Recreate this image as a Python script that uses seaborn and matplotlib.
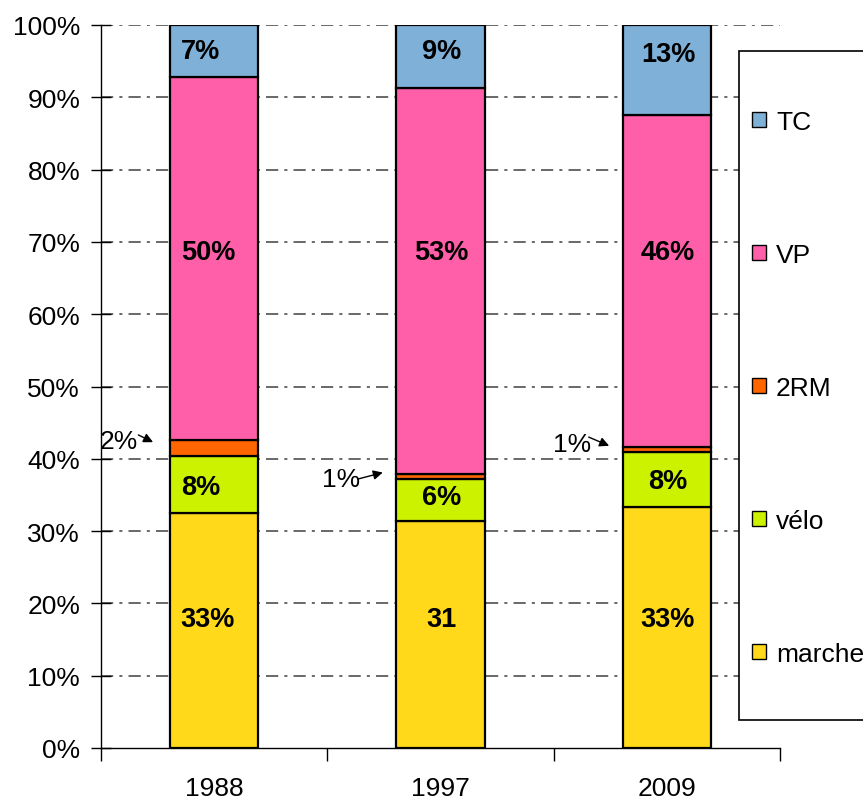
import numpy as np
import pandas as pd
import seaborn as sns
import matplotlib.pyplot as plt
from matplotlib.patches import Patch, Rectangle

# modal shares (%)
years = ["1988", "1997", "2009"]
modes = ["marche", "vélo", "2RM", "VP", "TC"]
marche = [32.5, 31.4, 33.3]
velo = [7.9, 5.8, 7.6]
deux_rm = [2.2, 0.7, 0.7]
vp = [50.2, 53.4, 46.0]
tc = [7.2, 8.7, 12.4]

# bar labels as printed on the chart
labels_marche = ["33%", "31", "33%"]
labels_velo = ["8%", "6%", "8%"]
labels_vp = ["50%", "53%", "46%"]
labels_tc = ["7%", "9%", "13%"]

# small 2RM shares written beside the bars
small_labels = ["2%", "1%", "1%"]

colors = {"marche": "#FFD91A", "vélo": "#CCF200", "2RM": "#FF6600",
          "VP": "#FF5FA8", "TC": "#7EB0D8"}

df = pd.DataFrame({"year": years, "marche": marche, "vélo": velo,
                   "2RM": deux_rm, "VP": vp, "TC": tc})

sns.set_style("white")
plt.rcParams["font.family"] = ["Liberation Sans", "DejaVu Sans"]
plt.rcParams["text.color"] = "black"
plt.rcParams["xtick.color"] = "black"
plt.rcParams["ytick.color"] = "black"

fig = plt.figure(figsize=(8.63, 8.03), dpi=100)
ax = fig.add_axes([101 / 863, 54 / 803, 679 / 863, 723 / 803])

# gridlines behind bars
ax.set_axisbelow(True)
for g in range(10, 101, 10):
    ax.axhline(g, color="#404040", lw=1.1, ls=(0, (8, 4, 2, 4)), zorder=0)

bottom = np.zeros(len(years))
for m in modes:
    sns.barplot(data=df, x="year", y=m, bottom=bottom, color=colors[m],
                width=0.39, edgecolor="black", linewidth=1.6, saturation=1,
                ax=ax, zorder=2)
    bottom = bottom + df[m].values

# text positions (y in %) of the in-bar labels
y_tc = [96.4, 96.4, 96.0]
y_vp = [68.6, 68.6, 68.6]
y_velo = [36.1, 34.7, 36.9]
y_marche = [17.8, 17.8, 17.8]
for i in range(len(years)):
    if i == 0:
        xx, ha = i - 0.148, "left"
    else:
        xx, ha = i + 0.005, "center"
    for lab, yy in zip([labels_tc[i], labels_vp[i], labels_velo[i], labels_marche[i]],
                       [y_tc[i], y_vp[i], y_velo[i], y_marche[i]]):
        ax.text(xx, yy, lab, ha=ha, va="center", fontsize=19.5, fontweight="bold",
                zorder=5)

# annotations with arrows for the 2RM share
ann_text = [(-0.42, 42.5), (0.56, 37.2), (1.58, 42.0)]
ann_tail = [(-0.335, 43.3), (0.635, 37.2), (1.655, 43.0)]
ann_head = [(-0.27, 42.3), (0.745, 38.1), (1.745, 41.8)]
for lab, t, tl, hd in zip(small_labels, ann_text, ann_tail, ann_head):
    ax.text(t[0], t[1], lab, ha="center", va="center", fontsize=19, zorder=5)
    ax.annotate("", xy=hd, xytext=tl,
                arrowprops=dict(arrowstyle="-|>", color="black", lw=1,
                                mutation_scale=14, shrinkA=0, shrinkB=0),
                zorder=5)

ax.set_xlim(-0.5, 2.5)
ax.set_ylim(0, 100)
ax.set_yticks(range(0, 101, 10))
ax.set_yticklabels([f"{v}%" for v in range(0, 101, 10)], fontsize=19)
ax.set_xticks(range(len(years)))
ax.set_xticklabels(years, fontsize=19)
ax.set_xticks([-0.5, 0.5, 1.5, 2.5], minor=True)
ax.tick_params(axis="x", which="major", length=0, pad=20, bottom=True)
ax.tick_params(axis="x", which="minor", length=9, width=1, direction="out",
               color="black", bottom=True)
ax.tick_params(axis="y", length=14, width=1, direction="inout", color="black",
               pad=8, left=True)
ax.set_xlabel("")
ax.set_ylabel("")
for s in ["top", "right"]:
    ax.spines[s].set_visible(False)
for s in ["left", "bottom"]:
    ax.spines[s].set_color("black")
    ax.spines[s].set_linewidth(1)

# legend box, running off the right edge
box = Rectangle((739 / 863, 1 - 721 / 803), 0.3, 669 / 803,
                transform=fig.transFigure, facecolor="white", edgecolor="black",
                lw=1.2, zorder=3)
fig.patches.append(box)

handles = [Patch(facecolor=colors[m], edgecolor="black", lw=1) for m in modes[::-1]]
leg = fig.legend(handles, modes[::-1], loc="upper left",
                 bbox_to_anchor=(752 / 863, 1 - 111 / 803), fontsize=19,
                 frameon=False, handlelength=0.53, handleheight=0.53,
                 handletextpad=0.38, labelspacing=4.13, borderpad=0,
                 borderaxespad=0)
leg.set_zorder(4)

fig.savefig("out.png", dpi=100)
